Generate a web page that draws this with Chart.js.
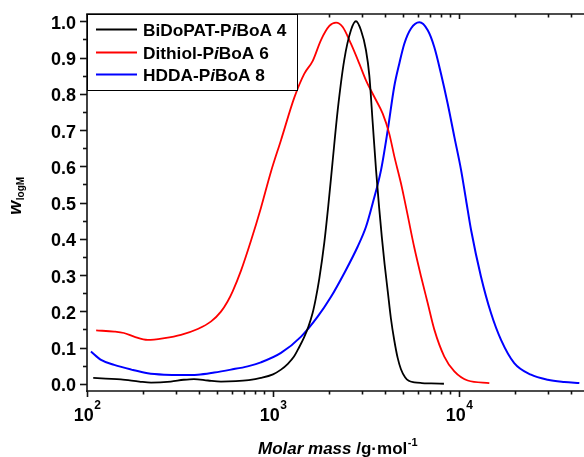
<!DOCTYPE html>
<html><head><meta charset="utf-8">
<script src="https://cdn.jsdelivr.net/npm/chart.js@4.4.1/dist/chart.umd.min.js"></script>
<style>html,body{margin:0;padding:0;background:#fff}#wrap{width:584px;height:457px;position:relative}</style>
</head><body><div id="wrap"><canvas id="c" width="584" height="457"></canvas></div>
<script>
// ---- data (molar mass in g/mol, w_logM) ----
const bidopatMass = [108,126,152,191,221,282,331,376,447,525,631,741,861,1000,1104,1202,1297,1380,1469,1549,1633,1698,1774,1888,1982,2089,2228,2415,2624,2793,2972,3162,3296,3436,3581,3715,3846,3981,4140,4305,4487,4677,4875,5129,5370,5754,6310,7079,8299];
const bidopatW    = [0.016,0.014,0.012,0.006,0.003,0.006,0.011,0.013,0.009,0.006,0.007,0.010,0.016,0.026,0.039,0.055,0.075,0.100,0.128,0.157,0.195,0.235,0.290,0.390,0.490,0.610,0.755,0.893,0.975,1.000,0.975,0.920,0.850,0.720,0.590,0.490,0.405,0.330,0.255,0.180,0.120,0.072,0.040,0.018,0.008,0.004,0.002,0.001,0.000];

const dithiolMass = [112,140,158,179,212,261,320,394,465,525,570,607,673,762,861,975,1104,1303,1472,1633,1811,2009,2183,2371,2624,2911,3162,3508,3890,4217,4487,4875,5082,5297,5754,6252,6792,7362,8337,9441,11143,14555];
const dithiolW    = [0.147,0.144,0.140,0.130,0.121,0.126,0.135,0.151,0.172,0.199,0.227,0.255,0.312,0.395,0.485,0.585,0.672,0.790,0.855,0.890,0.948,0.987,0.996,0.984,0.938,0.883,0.837,0.791,0.745,0.690,0.628,0.553,0.510,0.465,0.375,0.296,0.222,0.150,0.075,0.034,0.009,0.002];

const hddaMass = [105,119,140,173,212,261,320,394,483,594,731,861,1104,1416,1738,2051,2415,2851,3162,3436,3811,4140,4487,4775,5082,5521,6124,6792,7362,7998,8690,9441,10257,10914,11614,13122,14859,16827,19815,24378,29992,36813,44361];
const hddaW    = [0.089,0.066,0.052,0.039,0.029,0.025,0.024,0.025,0.031,0.039,0.048,0.059,0.085,0.130,0.185,0.240,0.305,0.378,0.433,0.498,0.590,0.700,0.820,0.883,0.938,0.980,0.997,0.975,0.929,0.856,0.773,0.681,0.590,0.507,0.424,0.296,0.195,0.121,0.057,0.025,0.011,0.005,0.002];

const seriesNames  = ['BiDoPAT-PiBoA 4','Dithiol-PiBoA 6','HDDA-PiBoA 8'];
const legendParts  = [['BiDoPAT-P','i','BoA 4'],['Dithiol-P','i','BoA 6'],['HDDA-P','i','BoA 8']];
const seriesColors = ['#000000','#ff0000','#0000ff'];

const yTicks = [0,0.1,0.2,0.3,0.4,0.5,0.6,0.7,0.8,0.9,1.0];
const yTickLabels = ['0.0','0.1','0.2','0.3','0.4','0.5','0.6','0.7','0.8','0.9','1.0'];
const yMinorTicks = [0.05,0.15,0.25,0.35,0.45,0.55,0.65,0.75,0.85,0.95];
const xTicks = [100,1000,10000];
const xTickExp = ['2','3','4'];
const xMinorTicks = [200,300,400,500,600,700,800,900,2000,3000,4000,5000,6000,7000,8000,9000,20000,30000,40000];

const FONT = '"Liberation Sans", Arial, Helvetica, sans-serif';

function pts(xs, ys){ return xs.map((x,i)=>({x:x, y:ys[i]})); }

const decor = {
  id:'decor',
  afterDatasetsDraw(chart){
    const ctx = chart.ctx, ca = chart.chartArea;
    const xs = chart.scales.x, ys = chart.scales.y;
    const L = ca.left, R = ca.right, T = ca.top, B = ca.bottom;
    ctx.save();
    ctx.strokeStyle = '#111'; ctx.lineWidth = 1.6; ctx.lineCap = 'butt';
    const ln = (x1,y1,x2,y2)=>{ ctx.beginPath(); ctx.moveTo(x1,y1); ctx.lineTo(x2,y2); ctx.stroke(); };
    // frame
    ln(L, T, L, B+1); ln(L-0.8, B, R, B); ln(L-0.8, T, R, T);
    // y ticks
    yTicks.forEach(v=>{ const p = Math.round(ys.getPixelForValue(v))+0.5; ln(L-7, p, L, p); });
    yMinorTicks.forEach(v=>{ const p = Math.round(ys.getPixelForValue(v))+0.5; ln(L-4, p, L, p); });
    // x ticks (bottom outward, top inward)
    xTicks.forEach(v=>{ const p = Math.round(xs.getPixelForValue(v))+0.5; ln(p, B, p, B+6); ln(p, T, p, T+5); });
    xMinorTicks.forEach(v=>{ const p = Math.round(xs.getPixelForValue(v))+0.5; ln(p, B, p, B+3.5); ln(p, T, p, T+3.5); });
    // y tick labels
    ctx.fillStyle = '#000';
    ctx.font = 'bold 18px ' + FONT;
    ctx.textAlign = 'right'; ctx.textBaseline = 'alphabetic';
    yTicks.forEach((v,i)=>{ const p = ys.getPixelForValue(v); ctx.fillText(yTickLabels[i], L-11, p+7.5); });
    // x tick labels 10^n
    xTicks.forEach((v,i)=>{
      const p = xs.getPixelForValue(v);
      ctx.font = 'bold 18px ' + FONT;
      const w1 = ctx.measureText('10').width;
      ctx.font = 'bold 12px ' + FONT;
      const w2 = ctx.measureText(xTickExp[i]).width;
      const x0 = p - (w1+w2)/2;
      ctx.textAlign = 'left';
      ctx.font = 'bold 18px ' + FONT;
      ctx.fillText('10', x0, 421);
      ctx.font = 'bold 12px ' + FONT;
      ctx.fillText(xTickExp[i], x0 + w1 + 0.5, 409);
    });
    // x title
    {
      const p1 = 'Molar mass', p2 = ' /g\u00B7mol', p3 = '-1';
      ctx.font = 'italic bold 17px ' + FONT; const a = ctx.measureText(p1).width;
      ctx.font = 'bold 17px ' + FONT; const b = ctx.measureText(p2).width;
      ctx.font = 'bold 11px ' + FONT; const c = ctx.measureText(p3).width;
      let x = (L+R)/2 + 2 - (a+b+c)/2; const y = 454;
      ctx.textAlign = 'left';
      ctx.font = 'italic bold 17px ' + FONT; ctx.fillText(p1, x, y); x += a;
      ctx.font = 'bold 17px ' + FONT; ctx.fillText(p2, x, y); x += b;
      ctx.font = 'bold 11px ' + FONT; ctx.fillText(p3, x + 0.5, y - 8);
    }
    // y title (rotated)
    {
      ctx.save();
      ctx.translate(21, 196);
      ctx.rotate(-Math.PI/2);
      ctx.textAlign = 'left';
      ctx.font = 'italic bold 18px ' + FONT; const a = ctx.measureText('w').width;
      ctx.font = 'bold 10px ' + FONT; const b = ctx.measureText('logM').width;
      const x0 = -(a+b)/2;
      ctx.font = 'italic bold 18px ' + FONT; ctx.fillText('w', x0, 0);
      ctx.font = 'bold 10px ' + FONT; ctx.fillText('logM', x0 + a + 0.5, 3);
      ctx.restore();
    }
    // legend
    {
      const bx = L, by = T, bw = 210, bh = 76;
      ctx.fillStyle = '#fff'; ctx.fillRect(bx, by, bw, bh);
      ctx.lineWidth = 1; ctx.strokeStyle = '#000';
      ctx.strokeRect(bx+0.5, by+0.5, bw, bh);
      const rows = [29.5, 52.5, 74.5];
      legendParts.forEach((parts,i)=>{
        ctx.strokeStyle = seriesColors[i]; ctx.lineWidth = 2;
        ln(96, rows[i], 137, rows[i]);
        ctx.fillStyle = '#000'; ctx.textAlign = 'left'; ctx.textBaseline = 'alphabetic';
        let x = 143; const y = rows[i] + 6.5;
        ctx.font = 'bold 17.3px ' + FONT; ctx.fillText(parts[0], x, y); x += ctx.measureText(parts[0]).width;
        ctx.font = 'italic bold 17.3px ' + FONT; ctx.fillText(parts[1], x, y); x += ctx.measureText(parts[1]).width;
        ctx.font = 'bold 17.3px ' + FONT; ctx.fillText(parts[2], x, y);
      });
    }
    ctx.restore();
  }
};

new Chart(document.getElementById('c'), {
  type: 'line',
  data: {
    datasets: [
      { label: seriesNames[0], data: pts(bidopatMass, bidopatW), borderColor: seriesColors[0], borderWidth: 1.8 },
      { label: seriesNames[1], data: pts(dithiolMass, dithiolW), borderColor: seriesColors[1], borderWidth: 1.8 },
      { label: seriesNames[2], data: pts(hddaMass, hddaW), borderColor: seriesColors[2], borderWidth: 2 }
    ]
  },
  options: {
    responsive: false,
    animation: false,
    layout: { padding: { left: 87, right: 0, top: 14, bottom: 66 } },
    elements: { point: { radius: 0 }, line: { cubicInterpolationMode: 'monotone', fill: false } },
    plugins: { legend: { display: false }, tooltip: { enabled: false } },
    scales: {
      x: { type: 'logarithmic', min: 100, max: 47000, display: false },
      y: { type: 'linear', min: -0.02, max: 1.02, display: false }
    }
  },
  plugins: [decor]
});
</script>
</body></html>
